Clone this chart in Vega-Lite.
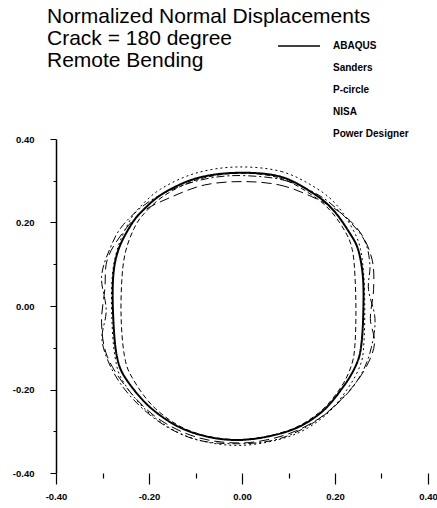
{
  "$schema": "https://vega.github.io/schema/vega-lite/v6.json",
  "width": 372,
  "height": 334,
  "autosize": "none",
  "padding": {"left": 56, "top": 139, "right": 9, "bottom": 35},
  "background": "white",
  "config": {"view": {"stroke": null}, "font": "Liberation Sans"},
  "title": {
    "text": ["Normalized Normal Displacements", "Crack = 180 degree", "Remote Bending"],
    "anchor": "start",
    "frame": "group",
    "dx": -9,
    "dy": 101,
    "offset": 70,
    "fontSize": 21,
    "fontWeight": "normal",
    "font": "Liberation Sans",
    "lineHeight": 22,
    "color": "black"
  },
  "data": {"values": [
    {"s":"ABAQUS","i":1,"x":-0.011,"y":0.319},{"s":"ABAQUS","i":2,"x":0.082,"y":0.310},{"s":"ABAQUS","i":3,"x":0.153,"y":0.270},{"s":"ABAQUS","i":4,"x":0.196,"y":0.230},{"s":"ABAQUS","i":5,"x":0.232,"y":0.174},{"s":"ABAQUS","i":6,"x":0.250,"y":0.134},{"s":"ABAQUS","i":7,"x":0.260,"y":0.070},{"s":"ABAQUS","i":8,"x":0.261,"y":-0.010},{"s":"ABAQUS","i":9,"x":0.257,"y":-0.089},{"s":"ABAQUS","i":10,"x":0.247,"y":-0.137},{"s":"ABAQUS","i":11,"x":0.218,"y":-0.193},{"s":"ABAQUS","i":12,"x":0.168,"y":-0.257},{"s":"ABAQUS","i":13,"x":0.096,"y":-0.301},{"s":"ABAQUS","i":14,"x":-0.011,"y":-0.321},{"s":"ABAQUS","i":15,"x":-0.112,"y":-0.301},{"s":"ABAQUS","i":16,"x":-0.191,"y":-0.249},{"s":"ABAQUS","i":17,"x":-0.248,"y":-0.177},{"s":"ABAQUS","i":18,"x":-0.269,"y":-0.121},{"s":"ABAQUS","i":19,"x":-0.277,"y":-0.026},{"s":"ABAQUS","i":20,"x":-0.277,"y":0.070},{"s":"ABAQUS","i":21,"x":-0.266,"y":0.134},{"s":"ABAQUS","i":22,"x":-0.241,"y":0.190},{"s":"ABAQUS","i":23,"x":-0.216,"y":0.226},{"s":"ABAQUS","i":24,"x":-0.169,"y":0.270},{"s":"ABAQUS","i":25,"x":-0.097,"y":0.306},

    {"s":"Sanders","i":1,"x":-0.010,"y":0.333},{"s":"Sanders","i":2,"x":0.085,"y":0.322},{"s":"Sanders","i":3,"x":0.160,"y":0.282},{"s":"Sanders","i":4,"x":0.205,"y":0.240},{"s":"Sanders","i":5,"x":0.240,"y":0.180},{"s":"Sanders","i":6,"x":0.255,"y":0.135},{"s":"Sanders","i":7,"x":0.262,"y":0.070},{"s":"Sanders","i":8,"x":0.264,"y":-0.010},{"s":"Sanders","i":9,"x":0.262,"y":-0.090},{"s":"Sanders","i":10,"x":0.255,"y":-0.140},{"s":"Sanders","i":11,"x":0.226,"y":-0.200},{"s":"Sanders","i":12,"x":0.175,"y":-0.266},{"s":"Sanders","i":13,"x":0.100,"y":-0.313},{"s":"Sanders","i":14,"x":-0.010,"y":-0.334},{"s":"Sanders","i":15,"x":-0.116,"y":-0.313},{"s":"Sanders","i":16,"x":-0.198,"y":-0.258},{"s":"Sanders","i":17,"x":-0.255,"y":-0.182},{"s":"Sanders","i":18,"x":-0.273,"y":-0.122},{"s":"Sanders","i":19,"x":-0.280,"y":-0.026},{"s":"Sanders","i":20,"x":-0.279,"y":0.070},{"s":"Sanders","i":21,"x":-0.268,"y":0.136},{"s":"Sanders","i":22,"x":-0.246,"y":0.195},{"s":"Sanders","i":23,"x":-0.222,"y":0.234},{"s":"Sanders","i":24,"x":-0.175,"y":0.280},{"s":"Sanders","i":25,"x":-0.100,"y":0.318},

    {"s":"P-circle","i":1,"x":-0.008,"y":0.318},{"s":"P-circle","i":2,"x":0.080,"y":0.307},{"s":"P-circle","i":3,"x":0.150,"y":0.266},{"s":"P-circle","i":4,"x":0.192,"y":0.226},{"s":"P-circle","i":5,"x":0.225,"y":0.172},{"s":"P-circle","i":6,"x":0.238,"y":0.130},{"s":"P-circle","i":7,"x":0.243,"y":0.070},{"s":"P-circle","i":8,"x":0.245,"y":-0.010},{"s":"P-circle","i":9,"x":0.243,"y":-0.090},{"s":"P-circle","i":10,"x":0.236,"y":-0.140},{"s":"P-circle","i":11,"x":0.212,"y":-0.196},{"s":"P-circle","i":12,"x":0.165,"y":-0.256},{"s":"P-circle","i":13,"x":0.095,"y":-0.300},{"s":"P-circle","i":14,"x":-0.010,"y":-0.320},{"s":"P-circle","i":15,"x":-0.110,"y":-0.300},{"s":"P-circle","i":16,"x":-0.186,"y":-0.246},{"s":"P-circle","i":17,"x":-0.236,"y":-0.172},{"s":"P-circle","i":18,"x":-0.253,"y":-0.118},{"s":"P-circle","i":19,"x":-0.260,"y":-0.026},{"s":"P-circle","i":20,"x":-0.258,"y":0.070},{"s":"P-circle","i":21,"x":-0.250,"y":0.132},{"s":"P-circle","i":22,"x":-0.232,"y":0.186},{"s":"P-circle","i":23,"x":-0.210,"y":0.222},{"s":"P-circle","i":24,"x":-0.165,"y":0.266},{"s":"P-circle","i":25,"x":-0.095,"y":0.303},

    {"s":"NISA","i":1,"x":0.000,"y":0.298},{"s":"NISA","i":2,"x":0.080,"y":0.290},{"s":"NISA","i":3,"x":0.150,"y":0.262},{"s":"NISA","i":4,"x":0.210,"y":0.225},{"s":"NISA","i":5,"x":0.255,"y":0.175},{"s":"NISA","i":6,"x":0.280,"y":0.110},{"s":"NISA","i":7,"x":0.283,"y":0.040},{"s":"NISA","i":8,"x":0.276,"y":-0.030},{"s":"NISA","i":9,"x":0.285,"y":-0.090},{"s":"NISA","i":10,"x":0.265,"y":-0.150},{"s":"NISA","i":11,"x":0.225,"y":-0.210},{"s":"NISA","i":12,"x":0.165,"y":-0.270},{"s":"NISA","i":13,"x":0.090,"y":-0.310},{"s":"NISA","i":14,"x":0.000,"y":-0.328},{"s":"NISA","i":15,"x":-0.095,"y":-0.315},{"s":"NISA","i":16,"x":-0.180,"y":-0.270},{"s":"NISA","i":17,"x":-0.245,"y":-0.200},{"s":"NISA","i":18,"x":-0.290,"y":-0.120},{"s":"NISA","i":19,"x":-0.302,"y":-0.040},{"s":"NISA","i":20,"x":-0.295,"y":0.040},{"s":"NISA","i":21,"x":-0.290,"y":0.110},{"s":"NISA","i":22,"x":-0.260,"y":0.170},{"s":"NISA","i":23,"x":-0.215,"y":0.225},{"s":"NISA","i":24,"x":-0.150,"y":0.262},{"s":"NISA","i":25,"x":-0.080,"y":0.290},

    {"s":"Power Designer","i":1,"x":0.010,"y":0.312},{"s":"Power Designer","i":2,"x":0.095,"y":0.300},{"s":"Power Designer","i":3,"x":0.170,"y":0.262},{"s":"Power Designer","i":4,"x":0.220,"y":0.215},{"s":"Power Designer","i":5,"x":0.262,"y":0.160},{"s":"Power Designer","i":6,"x":0.275,"y":0.100},{"s":"Power Designer","i":7,"x":0.272,"y":0.040},{"s":"Power Designer","i":8,"x":0.286,"y":-0.030},{"s":"Power Designer","i":9,"x":0.278,"y":-0.100},{"s":"Power Designer","i":10,"x":0.258,"y":-0.160},{"s":"Power Designer","i":11,"x":0.222,"y":-0.215},{"s":"Power Designer","i":12,"x":0.160,"y":-0.275},{"s":"Power Designer","i":13,"x":0.080,"y":-0.318},{"s":"Power Designer","i":14,"x":-0.010,"y":-0.330},{"s":"Power Designer","i":15,"x":-0.105,"y":-0.318},{"s":"Power Designer","i":16,"x":-0.190,"y":-0.268},{"s":"Power Designer","i":17,"x":-0.262,"y":-0.185},{"s":"Power Designer","i":18,"x":-0.300,"y":-0.090},{"s":"Power Designer","i":19,"x":-0.292,"y":-0.010},{"s":"Power Designer","i":20,"x":-0.302,"y":0.070},{"s":"Power Designer","i":21,"x":-0.283,"y":0.140},{"s":"Power Designer","i":22,"x":-0.255,"y":0.195},{"s":"Power Designer","i":23,"x":-0.200,"y":0.250},{"s":"Power Designer","i":24,"x":-0.130,"y":0.288},{"s":"Power Designer","i":25,"x":-0.060,"y":0.308}
  ]},
  "mark": {"type": "line", "interpolate": "cardinal-closed", "stroke": "black", "clip": false},
  "encoding": {
    "x": {
      "field": "x", "type": "quantitative",
      "scale": {"domain": [-0.4, 0.4], "nice": false, "zero": false},
      "axis": {
        "title": null, "grid": false, "domain": false,
        "values": [-0.4, -0.3, -0.2, -0.1, 0, 0.1, 0.2, 0.3, 0.4],
        "labelExpr": "abs(round(datum.value*10)) % 2 === 0 ? replace(format(datum.value, '.2f'), '\u2212', '-') : ''",
        "tickSize": {"condition": {"test": "abs(round(datum.value*10)) % 2 === 0", "value": 11}, "value": 5},
        "tickColor": "black", "tickWidth": 1.2,
        "labelPadding": 7, "labelFontSize": 9.5, "labelFontWeight": "bold", "labelColor": "black",
        "labelFont": "Liberation Sans", "labelFlush": false, "labelOverlap": false
      }
    },
    "y": {
      "field": "y", "type": "quantitative",
      "scale": {"domain": [-0.4, 0.4], "nice": false, "zero": false},
      "axis": {
        "title": null, "grid": false, "domain": true, "domainColor": "black", "domainWidth": 1.5,
        "values": [-0.4, -0.3, -0.2, -0.1, 0, 0.1, 0.2, 0.3, 0.4],
        "labelExpr": "abs(round(datum.value*10)) % 2 === 0 ? replace(format(datum.value, '.2f'), '\u2212', '-') : ''",
        "tickSize": {"condition": {"test": "abs(round(datum.value*10)) % 2 === 0", "value": 6}, "value": 3},
        "tickColor": "black", "tickWidth": 1,
        "labelPadding": 16, "labelFontSize": 9.5, "labelFontWeight": "bold", "labelColor": "black",
        "labelFont": "Liberation Sans", "labelFlush": false, "labelOverlap": false
      }
    },
    "order": {"field": "i", "type": "quantitative"},
    "strokeDash": {
      "field": "s", "type": "nominal",
      "scale": {
        "domain": ["ABAQUS", "Sanders", "P-circle", "NISA", "Power Designer"],
        "range": [[1, 0], [2, 3], [5, 3], [10, 5], [8, 3, 2, 3]]
      },
      "legend": {
        "title": null, "orient": "none", "legendX": 237, "legendY": -99,
        "symbolType": "M-4,0L4,0", "symbolSize": 110, "symbolStrokeColor": "black", "symbolStrokeWidth": 1.5,
        "labelFont": "Liberation Sans", "labelFontSize": 10, "labelFontWeight": "bold", "labelColor": "black",
        "labelOffset": 28, "rowPadding": 11,
        "encode": {"symbols": {"update": {"strokeOpacity": {"signal": "datum.label === 'ABAQUS' ? 1 : 0"}}}}
      }
    },
    "strokeWidth": {"condition": {"test": "datum.s === 'ABAQUS'", "value": 2}, "value": 1}
  }
}
